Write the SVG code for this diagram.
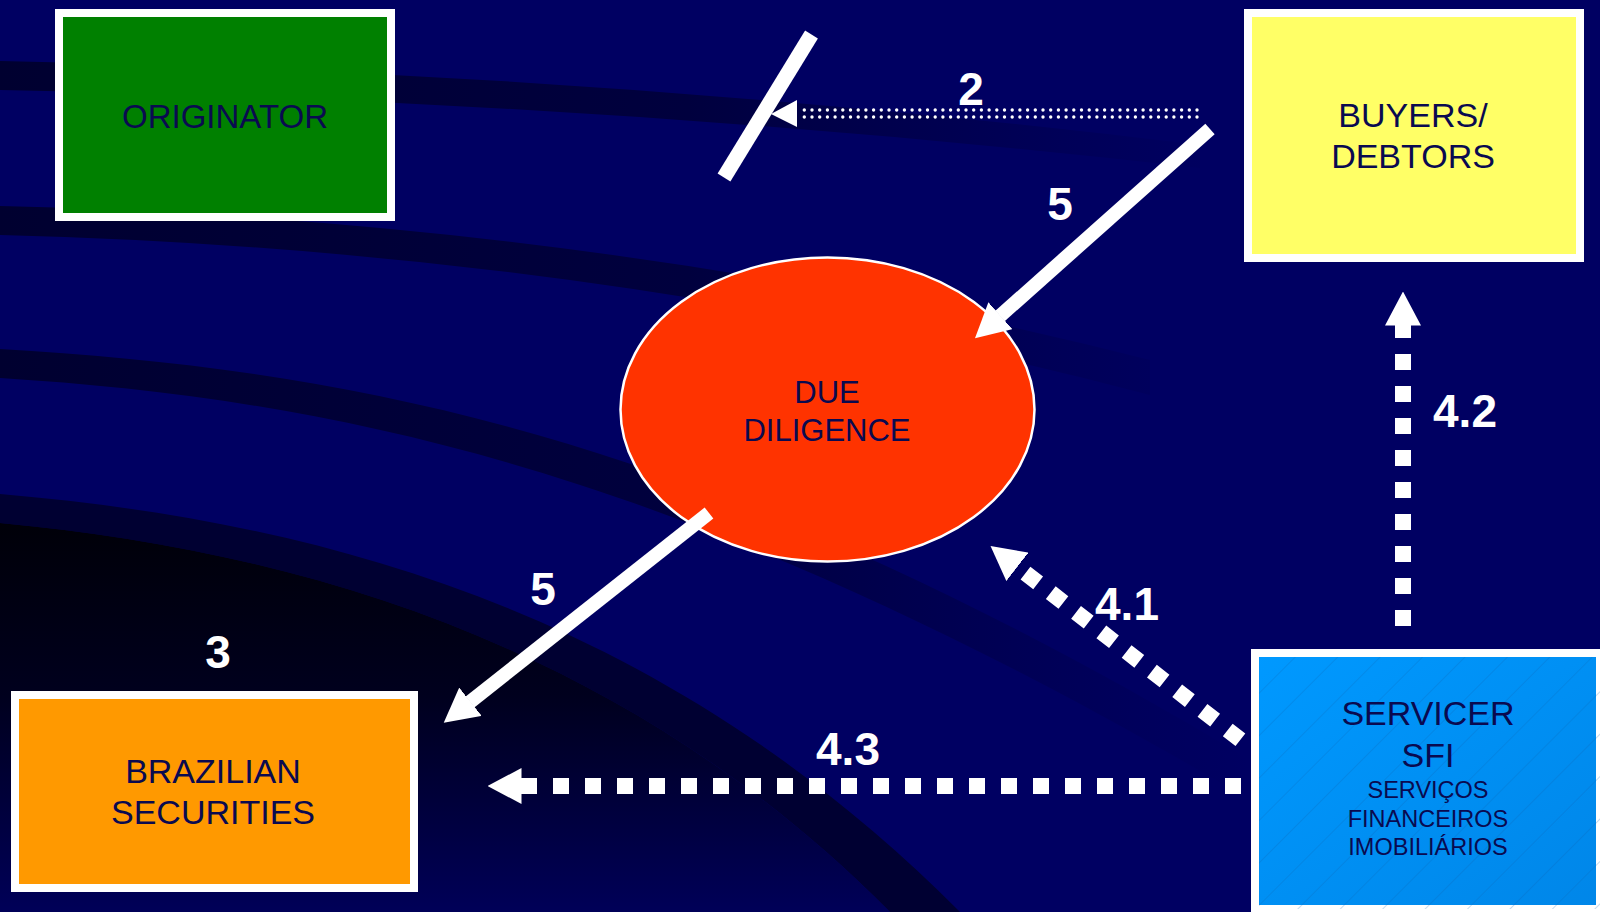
<svg xmlns="http://www.w3.org/2000/svg" width="1600" height="912" viewBox="0 0 1600 912">
<style>
.node-text{font-family:"Liberation Sans",Arial,sans-serif;fill:#0A0A50;text-anchor:middle}
.lbl{font-family:"Liberation Sans",Arial,sans-serif;font-weight:bold;font-size:46px;fill:#ffffff;text-anchor:middle}
.frame{stroke:#ffffff;stroke-width:8}
.thick{stroke:#ffffff;stroke-width:14;fill:none}
.sq{stroke:#ffffff;stroke-width:16;fill:none;stroke-dasharray:16 16}
</style>
<defs>
<marker id="head" viewBox="0 0 34 36" refX="0.5" refY="18" markerWidth="34" markerHeight="36" markerUnits="userSpaceOnUse" orient="auto">
<path d="M0,0 L34,18 L0,36 Z" fill="#ffffff"/>
</marker>
<linearGradient id="bandFade" gradientUnits="userSpaceOnUse" x1="0" y1="0" x2="1250" y2="0">
<stop offset="0" stop-color="#000030" stop-opacity="1"/>
<stop offset="0.55" stop-color="#000035" stop-opacity="0.8"/>
<stop offset="1" stop-color="#000040" stop-opacity="0"/>
</linearGradient>
<linearGradient id="lowDark" gradientUnits="userSpaceOnUse" x1="0" y1="520" x2="0" y2="912">
<stop offset="0" stop-color="#000008"/>
<stop offset="0.45" stop-color="#00001E"/>
<stop offset="1" stop-color="#000058"/>
</linearGradient>
<linearGradient id="blueFill" x1="0" y1="0" x2="1" y2="1">
<stop offset="0" stop-color="#0099FF"/>
<stop offset="1" stop-color="#0086E8"/>
</linearGradient>
<pattern id="hatch" width="30" height="30" patternUnits="userSpaceOnUse" patternTransform="rotate(45)">
<line x1="0" y1="0" x2="0" y2="30" stroke="#0a5fb0" stroke-width="1" stroke-opacity="0.45"/>
</pattern>
</defs>

<g id="background">
<rect x="0" y="0" width="1600" height="912" fill="#000062"/>
<path d="M0,61 Q600,72 1200,145 L1200,168 Q600,100 0,90 Z" fill="url(#bandFade)"/>
<path d="M0,206 Q600,220 1150,360 L1150,395 Q600,250 0,235 Z" fill="url(#bandFade)"/>
<path d="M0,349 C350,370 700,430 1250,760 L1250,800 C700,475 350,400 0,378 Z" fill="url(#bandFade)"/>
<path d="M0,494 C300,520 650,600 960,912 L890,912 C620,640 290,550 0,523 Z" fill="#000032"/>
<path d="M0,523 C290,550 620,640 890,912 L0,912 Z" fill="url(#lowDark)"/>
</g>

<g id="originator">
<rect class="frame" x="59" y="13" width="332" height="204" fill="#008000"/>
<text class="node-text" x="225" y="128" font-size="33">ORIGINATOR</text>
</g>

<g id="buyers-debtors">
<rect class="frame" x="1248" y="13" width="332" height="245" fill="#FFFF66"/>
<text class="node-text" x="1413" y="127" font-size="34">BUYERS/</text>
<text class="node-text" x="1413" y="168" font-size="34">DEBTORS</text>
</g>

<g id="due-diligence">
<ellipse cx="827.5" cy="409.5" rx="207" ry="152" fill="#FF3300" stroke="#ffffff" stroke-width="2.5"/>
<text class="node-text" x="827" y="403" font-size="31">DUE</text>
<text class="node-text" x="827" y="441" font-size="31">DILIGENCE</text>
</g>

<g id="brazilian-securities">
<rect class="frame" x="15" y="695" width="399" height="193" fill="#FF9900"/>
<text class="node-text" x="213" y="783" font-size="34">BRAZILIAN</text>
<text class="node-text" x="213" y="824" font-size="34">SECURITIES</text>
</g>

<g id="servicer">
<rect class="frame" x="1255" y="653" width="345" height="256" fill="url(#blueFill)"/>
<rect x="1259" y="657" width="341" height="252" fill="url(#hatch)"/>
<text class="node-text" x="1428" y="725" font-size="34">SERVICER</text>
<text class="node-text" x="1428" y="767" font-size="34">SFI</text>
<text class="node-text" x="1428" y="798" font-size="23.5">SERVIÇOS</text>
<text class="node-text" x="1428" y="827" font-size="23.5">FINANCEIROS</text>
<text class="node-text" x="1428" y="855" font-size="23.5">IMOBILIÁRIOS</text>
</g>

<g id="connectors">
<line x1="1197" y1="110" x2="800" y2="110" stroke="#ffffff" stroke-width="3.4" stroke-linecap="round" stroke-dasharray="0 7.7"/>
<line x1="1197" y1="117" x2="800" y2="117" stroke="#ffffff" stroke-width="3.4" stroke-linecap="round" stroke-dasharray="0 7.7"/>
<path d="M797,100 L771,114 L797,127 Z" fill="#ffffff"/>
<line x1="811.5" y1="34.5" x2="724" y2="177.5" stroke="#ffffff" stroke-width="15"/>
<line class="thick" x1="1210" y1="129" x2="1000" y2="316" marker-end="url(#head)"/>
<line class="thick" x1="709" y1="513" x2="470" y2="702" marker-end="url(#head)"/>
<line class="sq" x1="1241" y1="786" x2="521" y2="786" marker-end="url(#head)"/>
<line class="sq" x1="1403" y1="626" x2="1403" y2="325" marker-end="url(#head)"/>
<line class="sq" x1="1240.4" y1="739.8" x2="1017" y2="566.5" marker-end="url(#head)"/>
</g>

<g id="labels">
<text class="lbl" x="971" y="105">2</text>
<text class="lbl" x="1060" y="220">5</text>
<text class="lbl" x="543" y="605">5</text>
<text class="lbl" x="218" y="668">3</text>
<text class="lbl" x="1127" y="620">4.1</text>
<text class="lbl" x="1465" y="427">4.2</text>
<text class="lbl" x="848" y="765">4.3</text>
</g>
</svg>
